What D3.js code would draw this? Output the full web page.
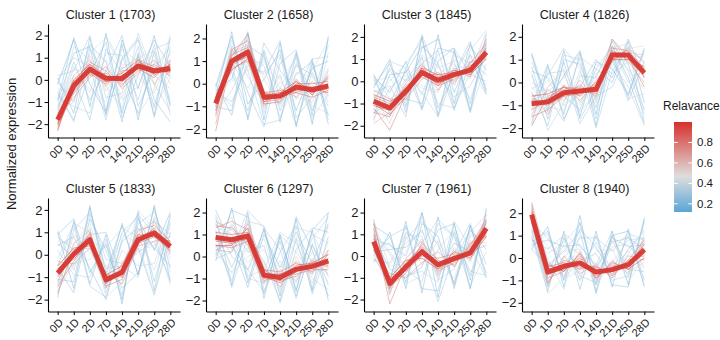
<!DOCTYPE html>
<html>
<head>
<meta charset="utf-8">
<script src="https://cdn.jsdelivr.net/npm/d3@7"></script>
<style>
  body { margin: 0; background: #fff; }
  svg { display: block; }
  text { font-family: "Liberation Sans", Arial, sans-serif; }
</style>
</head>
<body>
<svg id="chart" width="720" height="340"></svg>
<script>
// time points on the x axis
const timepoints = ["0D", "1D", "2D", "7D", "14D", "21D", "25D", "28D"];
const clusterSizes = [1703, 1658, 1845, 1826, 1833, 1297, 1961, 1940];

// thick red line: cluster centre profile
const centroids = [
  [-1.8, -0.27, 0.48, 0.07, 0.06, 0.63, 0.4, 0.5],
  [-0.87, 1.0, 1.4, -0.6, -0.55, -0.15, -0.27, -0.1],
  [-0.9, -1.2, -0.45, 0.4, 0.05, 0.3, 0.5, 1.3],
  [-0.93, -0.85, -0.45, -0.37, -0.3, 1.2, 1.2, 0.42],
  [-0.82, 0.03, 0.67, -1.12, -0.78, 0.67, 0.97, 0.37],
  [0.86, 0.76, 0.94, -0.85, -0.95, -0.58, -0.45, -0.2],
  [0.67, -1.26, -0.5, 0.2, -0.4, -0.12, 0.15, 1.27],
  [1.94, -0.63, -0.37, -0.22, -0.63, -0.52, -0.3, 0.37]
];

// per-panel y extent (free scales)
const yDomains = [
  [-2.6, 2.52], [-2.38, 2.64], [-2.53, 2.58], [-2.41, 2.56],
  [-2.53, 2.53], [-2.5, 2.66], [-2.55, 2.67], [-2.39, 2.68]
];
const yTicks = [-2, -1, 0, 1, 2];

// relevance of each member line (same order in every cluster)
const lineRelevance = [0.14, 0.17, 0.19, 0.21, 0.24, 0.27, 0.3, 0.33, 0.36, 0.4,
  0.45, 0.5, 0.6, 0.65, 0.7, 0.75, 0.8, 0.85, 0.9, 0.95,
  0.16, 0.2, 0.23, 0.28, 0.32, 0.38, 0.72, 0.88];

// member gene profiles, sampled by eye from each panel
const cluster1Lines = [
  [-0.2, 1.8, -1.2, 2.1, -1.5, 1.2, -1.6, 1.9],
  [0.1, -1.5, 1.9, -1.4, 1.6, -1.8, 1.3, -1.2],
  [-1.0, 1.2, 1.5, -1.6, 0.9, 1.8, -0.9, -1.9],
  [-0.6, -1.8, 0.3, 1.7, -1.7, 0.2, 1.8, 0.6],
  [-1.3, 0.8, -0.9, 0.4, 2.0, -1.2, 0.5, 1.5],
  [0.2, 0.4, 2.0, -0.8, -0.6, 1.5, -1.7, 0.9],
  [-0.8, -1.2, -1.5, 1.2, 1.1, -0.9, 1.6, -1.6],
  [-1.5, 1.5, 0.9, -0.3, -1.3, 2.1, 0.2, -0.4],
  [-0.4, -0.6, 1.2, 1.9, 0.5, -1.6, -0.4, 2.0],
  [-1.1, 0.2, -0.4, -1.0, 1.4, 0.8, 1.1, -0.9],
  [-1.6, 0.5, 0.2, 0.9, -0.8, 1.0, 1.3, -0.2],
  [-1.4, -1.0, 1.1, -0.5, 0.6, 0.1, -0.6, 1.2],
  [-2.0, 0.2, 0.9, -0.3, 0.5, 1.0, -0.2, 0.8],
  [-1.6, -0.8, 0.1, 0.6, -0.4, 0.3, 0.9, 0.1],
  [-2.2, -0.1, 0.8, 0.4, -0.3, 0.9, 0.6, 0.3],
  [-1.7, -0.5, 0.3, -0.2, 0.4, 0.5, 0.1, 0.9],
  [-1.9, -0.3, 0.7, 0.2, -0.1, 0.8, 0.5, 0.4],
  [-2.3, -0.1, 0.4, -0.1, 0.2, 0.6, 0.3, 0.7],
  [-1.8, -0.4, 0.6, 0.1, 0.0, 0.7, 0.4, 0.5],
  [-2.0, -0.2, 0.5, 0.0, 0.1, 0.5, 0.5, 0.6],
  [-0.9, 1.9, -0.2, -1.5, 1.8, -0.4, 2.0, -1.1],
  [-0.1, -1.0, 1.6, 0.8, -1.9, 1.1, -1.2, 1.4],
  [-1.2, 0.0, -1.8, 1.4, 0.3, -1.5, 0.8, 0.3],
  [0.0, 1.0, 0.6, -1.8, 1.0, 1.9, -0.2, -1.4],
  [-0.5, -1.9, 1.4, 0.2, -0.9, -0.3, 1.4, 1.7],
  [-1.4, 0.6, -0.6, 2.0, 0.7, 0.6, -1.3, 0.1],
  [-2.1, -0.6, 0.2, 0.3, -0.2, 0.4, 0.7, 0.2],
  [-1.7, 0.0, 0.7, -0.1, 0.3, 0.9, 0.2, 0.7]
];
const cluster2Lines = [
  [-0.3, 0.2, 2.3, -1.6, 1.8, -1.9, 0.9, -1.4],
  [-0.6, 2.3, -1.6, 1.4, -1.7, 1.3, -1.8, 2.1],
  [0.0, -1.4, 1.7, 1.2, -1.2, 0.4, 1.0, -1.8],
  [-1.1, 1.6, -0.4, -1.9, 0.9, 1.5, -1.2, 0.6],
  [-0.4, -0.8, 0.8, 0.5, 1.9, -1.5, -0.6, 1.7],
  [-0.9, 0.7, -1.2, 1.5, -0.6, 0.8, 0.4, -1.0],
  [-0.2, 1.9, 0.3, -0.9, 0.4, -1.9, 1.1, 1.2],
  [-1.3, -0.3, 1.2, 0.8, -1.5, 0.2, -1.5, -0.5],
  [-0.7, 1.2, 2.0, -1.3, 1.2, -0.7, 0.6, 1.9],
  [-0.5, 0.1, 0.6, 1.1, 0.2, 1.1, -1.0, -1.3],
  [-1.5, 0.6, 1.8, 0.2, -1.0, 0.5, 0.3, -0.6],
  [-0.8, 1.5, 0.9, -1.1, 0.1, -0.6, -0.8, 0.7],
  [-1.8, 1.4, 1.7, -0.3, -0.9, 0.2, -0.5, 0.4],
  [-0.5, 0.7, 1.0, -1.0, -0.2, -0.6, 0.1, -0.5],
  [-2.1, 1.2, 2.2, -0.8, -0.7, 0.1, -0.3, 0.2],
  [-1.0, 0.8, 1.3, -0.4, -0.3, -0.4, -0.6, -0.3],
  [-0.7, 1.3, 1.6, -0.9, -0.8, 0.0, 0.0, 0.1],
  [-1.2, 0.9, 1.2, -0.5, -0.4, -0.3, -0.2, -0.4],
  [-0.9, 1.1, 1.5, -0.7, -0.6, -0.1, -0.4, 0.0],
  [-0.8, 1.0, 1.4, -0.6, -0.5, -0.2, -0.3, -0.1],
  [-0.1, 2.1, -0.9, 0.2, 1.5, -1.2, 0.7, 1.0],
  [-1.0, -1.2, 2.2, -0.5, -0.8, 1.4, -1.4, 2.0],
  [-0.4, 0.5, -1.5, 1.8, 0.6, -0.4, 1.1, -1.6],
  [-0.8, 1.7, 0.6, -1.8, -1.6, 0.9, -0.3, 0.3],
  [-0.2, -1.0, 1.0, 0.4, 1.3, -1.8, 0.5, -0.8],
  [-1.2, 0.9, -0.2, 1.0, -0.2, 1.2, -1.7, 1.4],
  [-1.4, 1.5, 1.9, -0.4, -0.6, -0.4, -0.1, -0.3],
  [-0.6, 0.6, 1.1, -0.8, -0.4, 0.1, -0.5, 0.3]
];
const cluster3Lines = [
  [0.2, -0.5, 0.9, -1.2, 2.1, -1.0, 1.7, -0.4],
  [-0.3, 1.0, -1.4, 2.0, -1.5, 1.4, -1.3, 2.1],
  [-1.5, 0.3, 0.4, 1.6, 0.8, -1.3, 0.9, 0.3],
  [0.1, -1.3, -0.8, -1.0, 1.5, 1.3, -1.0, 1.6],
  [-1.1, 0.6, 0.0, 1.1, -1.6, 0.4, 1.8, -0.5],
  [-0.5, -0.2, -1.6, 2.1, 0.2, -0.7, -0.2, 1.2],
  [-1.8, 0.9, 0.6, -0.6, 1.2, 1.5, 0.3, 0.0],
  [0.3, -0.8, -0.3, 0.5, -1.0, -1.2, 1.4, 2.3],
  [-0.8, 0.0, 0.8, 1.8, 0.6, 0.9, -1.4, 0.8],
  [-1.3, -1.6, 0.2, -0.2, -0.4, 0.7, 0.6, -0.6],
  [-1.6, -1.0, -0.9, 1.0, 0.7, -0.2, 1.1, 1.0],
  [-0.6, -1.9, 0.1, -0.3, -0.5, 1.0, 0.1, 1.9],
  [-1.9, -1.4, -0.1, 0.8, -0.4, 0.6, 0.3, 1.6],
  [-0.4, -0.8, -0.8, 0.1, 0.4, -0.1, 0.9, 1.0],
  [-1.2, -2.2, -0.6, 0.7, 0.2, 0.5, 0.2, 1.9],
  [-0.7, -1.0, -0.3, 0.2, -0.2, 0.1, 0.7, 1.1],
  [-1.0, -1.5, -0.7, 0.6, 0.3, 0.4, 0.4, 1.5],
  [-0.8, -1.1, -0.4, 0.3, -0.1, 0.2, 0.6, 1.2],
  [-1.1, -1.3, -0.5, 0.5, 0.1, 0.3, 0.5, 1.4],
  [-0.9, -1.2, -0.45, 0.4, 0.05, 0.3, 0.5, 1.3],
  [-0.2, 0.8, -1.1, 1.5, 1.9, -0.5, 1.2, -0.6],
  [-1.4, -1.0, 0.5, -1.3, 0.9, 1.5, -1.4, 1.8],
  [0.3, -1.5, 0.6, 2.0, -1.2, 0.3, 1.6, 0.5],
  [-0.9, 0.5, -0.5, 0.8, 1.4, -1.2, 0.4, 2.2],
  [-1.7, -0.3, 0.3, -0.5, -1.6, 1.2, 0.8, -0.2],
  [0.0, 0.2, -1.2, 1.2, 0.3, 0.8, -0.8, 1.3],
  [-1.4, -1.6, -0.2, 0.3, 0.3, 0.0, 0.8, 1.7],
  [-0.6, -0.9, -0.6, 0.6, -0.2, 0.5, 0.3, 1.0]
];
const cluster4Lines = [
  [1.2, -1.2, 1.4, -1.5, 0.9, 0.6, -0.5, 1.5],
  [-1.8, 0.7, -1.4, 1.3, -1.9, 1.6, 0.2, -1.8],
  [0.5, 0.2, -0.6, -1.2, 0.6, 0.0, 1.8, -0.9],
  [-0.4, -1.9, 1.0, 0.8, -1.1, 1.1, -0.8, 0.9],
  [0.9, -0.6, -1.7, 0.3, 0.2, 1.8, 0.5, -1.4],
  [-1.2, 0.4, 0.5, -1.8, -0.6, -0.2, 1.3, 1.2],
  [0.3, -1.3, 1.2, 1.0, -1.6, 0.9, -0.2, -1.9],
  [-0.8, 0.1, -1.0, -0.5, 0.8, 0.4, 0.9, 0.4],
  [0.0, -0.4, 0.2, 1.3, -0.9, 1.4, -0.7, -0.5],
  [-1.5, 0.5, -0.2, -1.0, 0.4, 0.7, 1.5, 1.6],
  [-0.2, -1.1, -1.2, 0.5, -0.8, 1.0, 0.6, -0.3],
  [-1.6, -0.2, 0.6, -0.9, 0.3, 1.5, 1.7, 0.8],
  [-1.4, -0.3, -0.8, 0.1, -0.7, 1.6, 0.9, 0.0],
  [-0.5, -1.4, -0.1, -0.8, 0.1, 0.9, 1.5, 0.9],
  [-1.9, -0.6, -0.3, -0.2, -0.5, 1.9, 1.1, -0.2],
  [-0.7, -1.0, -0.6, -0.5, -0.1, 1.1, 1.4, 0.6],
  [-1.2, -0.7, -0.2, -0.3, -0.4, 1.4, 1.0, 0.3],
  [-0.8, -0.9, -0.5, -0.4, -0.2, 1.0, 1.3, 0.5],
  [-1.0, -0.8, -0.4, -0.4, -0.3, 1.3, 1.2, 0.4],
  [-0.9, -0.9, -0.5, -0.3, -0.3, 1.2, 1.2, 0.45],
  [1.3, -0.9, 0.3, 1.4, -1.4, 1.9, 0.8, -1.2],
  [-1.0, 0.8, -1.6, -0.2, 1.0, 0.2, 1.9, 0.2],
  [0.7, -1.6, 0.9, -1.6, -0.3, 1.2, -0.6, 1.4],
  [-0.3, 0.3, 1.5, 0.6, -2.0, 0.5, 1.6, -1.7],
  [0.4, -2.1, -0.9, 1.1, 0.6, 1.6, 0.0, 0.6],
  [-1.9, -0.2, 0.4, -1.3, -0.4, 0.9, 1.2, 1.1],
  [-1.5, -1.2, -0.6, -0.1, -0.6, 1.5, 1.4, 0.2],
  [-0.6, -0.5, -0.2, -0.6, 0.0, 1.0, 1.0, 0.7]
];
const cluster5Lines = [
  [1.0, -1.5, 2.1, -0.8, 1.3, -0.9, 2.2, -1.2],
  [-1.9, 1.5, -1.3, 0.9, -2.2, 1.9, -1.6, 1.8],
  [0.4, 0.8, -0.6, -2.0, 0.6, 1.2, 0.3, -0.5],
  [-0.6, -1.7, 1.6, 0.2, -1.5, -0.8, 1.5, 0.9],
  [0.8, 0.2, 0.3, -1.5, 1.0, 1.7, -1.2, 1.4],
  [-1.3, 1.1, 1.9, -0.2, -0.4, 0.1, 0.6, -1.1],
  [0.2, -0.9, -1.0, 0.7, -1.8, 1.4, 1.9, 0.2],
  [-0.2, 1.4, 1.0, -1.7, 0.2, -0.5, -0.4, 1.7],
  [-1.6, -0.4, -0.2, 0.4, -0.9, 2.0, 1.1, -0.8],
  [0.6, 0.5, 1.4, -0.9, 0.9, 0.5, -1.7, 0.6],
  [-0.4, -0.5, 1.2, -1.9, -1.2, 1.0, 1.6, -0.2],
  [-1.5, 0.9, 0.1, -0.5, -0.3, 0.2, 0.4, 1.2],
  [-1.2, 0.5, 1.1, -1.5, -0.4, 0.9, 1.5, 0.0],
  [-0.3, -0.4, 0.3, -0.8, -1.3, 0.4, 0.6, 0.8],
  [-1.7, 0.2, 0.9, -1.3, -0.6, 1.1, 1.3, 0.6],
  [-0.6, -0.2, 0.5, -0.9, -1.0, 0.5, 0.8, 0.2],
  [-1.0, 0.1, 0.8, -1.2, -0.7, 0.8, 1.1, 0.5],
  [-0.7, 0.0, 0.6, -1.0, -0.9, 0.6, 0.9, 0.3],
  [-0.9, 0.05, 0.7, -1.2, -0.8, 0.7, 1.0, 0.4],
  [-0.8, 0.0, 0.65, -1.1, -0.75, 0.65, 0.95, 0.35],
  [0.9, 1.6, -0.8, 0.5, -2.0, 1.6, 0.2, 1.9],
  [-1.1, -1.2, 2.2, -1.3, 1.4, -0.9, 2.1, -0.6],
  [0.5, -0.1, 0.9, 1.0, -1.0, 0.3, -1.8, 1.0],
  [-0.5, 1.3, -1.4, -1.9, 0.7, 1.8, 0.9, -1.3],
  [1.1, -0.7, 1.8, -0.6, -0.5, -1.0, 1.7, 0.5],
  [-1.8, 0.4, 0.6, 0.3, 1.2, 0.8, -0.7, 1.5],
  [-1.4, -0.3, 1.0, -1.4, -1.1, 0.5, 1.2, 0.1],
  [-0.5, 0.3, 0.4, -0.9, -0.5, 0.9, 0.8, 0.6]
];
const cluster6Lines = [
  [-0.2, 2.2, -1.2, 1.3, -1.8, 1.7, -1.5, 2.0],
  [1.8, -1.3, 2.0, -1.9, 1.0, -1.6, 1.2, -2.0],
  [0.3, 0.6, -1.4, 1.0, -0.5, 1.1, -0.3, 1.5],
  [1.2, -0.5, 1.1, -1.0, 0.7, -1.8, 0.5, -0.9],
  [0.0, 1.4, 0.2, 0.5, -2.1, 0.3, 1.3, 1.1],
  [1.5, 0.0, -0.6, -1.6, 0.2, 1.4, -1.7, 0.3],
  [0.6, -1.1, 1.6, 1.4, -1.2, -0.8, 0.8, 1.8],
  [1.0, 1.8, -0.9, -0.6, 1.1, 0.6, -1.0, -1.5],
  [0.2, -0.7, 0.4, -1.3, -0.2, -1.2, 1.0, 0.6],
  [1.4, 0.9, -0.3, 0.8, -1.5, 0.9, -0.6, -0.6],
  [1.9, 0.3, 1.7, -1.5, -0.4, -1.0, 0.2, -1.2],
  [0.4, 1.5, 0.5, -0.3, -1.6, 0.0, -1.2, 0.7],
  [1.6, 1.2, 0.5, -1.2, -0.6, -1.1, -0.1, -0.8],
  [0.3, 0.2, 1.5, -0.5, -1.4, -0.2, -0.8, 0.3],
  [1.3, 1.6, 1.2, -1.0, -1.1, -0.9, -0.2, -0.5],
  [0.5, 0.4, 0.7, -0.6, -0.7, -0.3, -0.7, 0.1],
  [1.1, 1.0, 1.1, -0.9, -1.2, -0.7, -0.3, -0.4],
  [0.7, 0.6, 0.8, -0.8, -0.8, -0.5, -0.5, -0.1],
  [0.9, 0.8, 1.0, -0.9, -1.0, -0.6, -0.4, -0.3],
  [0.85, 0.75, 0.9, -0.8, -0.9, -0.55, -0.45, -0.2],
  [2.1, 0.5, -0.6, 1.2, -1.1, 1.8, 0.3, -1.8],
  [0.1, 2.1, 1.8, -1.7, 0.9, -1.5, 1.2, 2.0],
  [1.1, -1.4, 0.9, -0.2, -2.0, 0.8, -1.6, 0.9],
  [-0.1, 0.2, 2.1, 1.3, 0.3, -1.9, 0.6, -1.3],
  [1.6, 1.0, -1.0, -1.2, 1.0, 0.2, -0.8, 1.4],
  [0.5, -0.8, 0.0, 0.3, -0.8, 1.3, 1.1, -0.5],
  [1.4, 1.3, 0.6, -1.1, -0.8, -0.8, -0.6, -0.6],
  [0.5, 0.5, 1.3, -0.6, -1.1, -0.4, -0.3, 0.1]
];
const cluster7Lines = [
  [-0.3, 1.1, -1.5, 2.0, -1.9, 1.5, -1.5, 2.1],
  [1.5, -1.2, 1.6, -1.7, 1.8, -1.5, 1.4, -1.0],
  [0.2, 0.3, 0.4, 1.2, -0.8, 0.6, 0.2, 0.5],
  [0.9, -0.6, -1.0, -0.5, 1.2, 1.5, -1.1, 1.6],
  [0.0, 0.9, 1.3, 0.3, -2.1, 0.1, 1.5, -0.4],
  [1.2, -1.8, 0.8, 1.6, 0.5, -1.2, 0.6, 1.0],
  [0.4, 0.6, -0.6, -1.2, 1.5, 0.9, -0.7, -0.9],
  [-0.2, -0.3, 1.0, 0.9, -1.1, -0.6, 1.1, 1.9],
  [1.0, 0.1, -1.3, -0.9, 0.3, 1.2, -1.4, 0.2],
  [0.5, -0.9, 0.2, 1.8, -0.3, -1.0, 0.9, 0.9],
  [1.6, -0.5, -0.2, 0.8, -1.0, 0.4, -0.3, 1.4],
  [0.1, -1.6, 0.9, -0.4, 0.7, -0.5, 0.7, 0.6],
  [1.7, -1.7, -0.1, 0.7, -0.9, 0.3, -0.2, 1.9],
  [0.2, -0.8, -1.0, -0.3, 0.2, -0.5, 0.6, 0.9],
  [1.3, -2.2, -0.4, 0.5, -0.7, -0.3, 0.4, 1.6],
  [0.4, -1.0, -0.7, 0.0, -0.1, 0.1, 0.0, 1.0],
  [1.0, -1.5, -0.3, 0.4, -0.6, -0.2, 0.3, 1.5],
  [0.5, -1.1, -0.6, 0.1, -0.3, 0.0, 0.1, 1.1],
  [0.8, -1.3, -0.5, 0.3, -0.5, -0.1, 0.2, 1.3],
  [0.65, -1.25, -0.5, 0.2, -0.4, -0.1, 0.15, 1.25],
  [1.4, 0.9, -1.2, 1.5, 0.9, -1.3, 1.4, -0.8],
  [-0.1, -1.1, 1.4, -1.5, -1.6, 1.1, -0.9, 1.7],
  [0.8, 0.5, 0.0, 2.0, -0.5, -0.2, 1.2, 0.3],
  [0.3, -1.5, 1.1, 0.6, 1.7, 0.9, -1.5, 2.2],
  [1.1, 0.2, -0.9, -0.7, -1.2, 1.6, 0.4, -1.0],
  [0.0, -0.4, 0.6, 1.1, 0.6, -1.4, 1.0, 0.8],
  [1.5, -1.4, -0.8, 0.6, -0.2, -0.4, 0.5, 1.7],
  [0.3, -1.0, -0.2, -0.1, -0.6, 0.2, -0.1, 0.9]
];
const cluster8Lines = [
  [0.4, 1.4, -1.3, 1.9, -1.5, 1.2, -1.2, 1.8],
  [1.0, -1.5, 1.2, -1.4, 1.2, -1.3, 1.3, -1.3],
  [0.6, 0.8, 0.5, 0.6, -0.4, 0.7, 0.9, 0.4],
  [1.3, -0.2, -0.6, 1.3, 0.5, -0.8, 0.4, 1.2],
  [0.8, 0.4, 1.0, -0.8, -1.1, 1.0, -0.5, -0.6],
  [1.5, -1.1, 0.0, 0.9, 0.9, 0.3, 1.1, 0.8],
  [0.5, 1.1, -0.9, -0.1, 0.2, -1.0, -0.8, 1.6],
  [1.1, 0.2, 0.7, 1.5, -0.7, 0.5, 0.6, -0.4],
  [2.1, -0.3, 0.3, 0.4, -1.2, -0.2, 0.8, 0.9],
  [1.7, -1.6, -0.9, -0.6, 0.3, 0.4, -1.1, 0.1],
  [1.4, 0.5, -0.1, -1.0, -0.2, -0.9, 0.2, 1.3],
  [2.3, -1.0, 0.6, 0.2, -0.5, 0.8, -0.6, -0.2],
  [2.5, -0.2, -0.8, 0.3, -1.0, -0.1, -0.7, 0.9],
  [1.6, -1.2, 0.1, -0.7, -0.3, -0.9, 0.1, -0.1],
  [2.2, -0.9, -0.6, 0.1, -0.9, -0.3, -0.5, 0.7],
  [1.7, -0.4, -0.2, -0.5, -0.4, -0.7, -0.1, 0.1],
  [2.1, -0.7, -0.5, 0.0, -0.8, -0.4, -0.4, 0.6],
  [1.8, -0.5, -0.3, -0.4, -0.5, -0.6, -0.2, 0.2],
  [2.0, -0.6, -0.4, -0.2, -0.7, -0.5, -0.3, 0.4],
  [1.9, -0.65, -0.35, -0.25, -0.6, -0.5, -0.3, 0.35],
  [0.7, 1.2, -1.0, 1.6, -1.2, 1.0, 1.2, -1.0],
  [1.2, -1.3, 0.9, -1.0, 1.0, -1.2, -1.3, 1.7],
  [0.4, -0.4, 0.3, 1.2, -1.6, 0.9, 0.5, 0.6],
  [1.6, 0.9, -0.3, -0.5, 0.7, -0.6, 1.0, -1.2],
  [0.9, -0.8, 1.1, 0.5, -0.3, 1.2, -0.9, 1.1],
  [1.3, 0.0, -1.4, 1.0, 0.4, -0.4, 0.3, -0.5],
  [2.4, -1.1, -0.1, -0.3, -0.4, -0.8, -0.1, 0.8],
  [1.6, -0.3, -0.6, 0.2, -0.9, -0.2, -0.5, 0.0]
];
const memberLines = [cluster1Lines, cluster2Lines, cluster3Lines, cluster4Lines,
  cluster5Lines, cluster6Lines, cluster7Lines, cluster8Lines];

const legendTicks = [0.2, 0.4, 0.6, 0.8];
const legendRange = [0.12, 1.0];

// layout
const PANEL = { left: 48, top: 24, w: 132, h: 113.5, dx: 158, dy: 174 };
const LINE_RED = "#d83832";

const svg = d3.select("#chart");

const color = d3.scaleLinear()
  .domain([0.12, 0.47, 1.0])
  .range(["#5ba5d6", "#dedede", "#d7302b"])
  .clamp(true);

const x = d3.scalePoint().domain(timepoints).range([0, PANEL.w]).padding(0.6);

clusterSizes.forEach((size, k) => {
  const col = k % 4, row = Math.floor(k / 4);
  const g = svg.append("g")
    .attr("transform", `translate(${PANEL.left + col * PANEL.dx},${PANEL.top + row * PANEL.dy})`);
  const y = d3.scaleLinear().domain(yDomains[k]).range([PANEL.h, 0]);
  const line = d3.line().x((d, i) => x(timepoints[i])).y(d => y(d));

  // low relevance first so red genes sit on top
  const genes = memberLines[k]
    .map((values, i) => ({ values, rel: lineRelevance[i] }))
    .sort((a, b) => a.rel - b.rel);

  g.append("g").selectAll("path")
    .data(genes)
    .join("path")
    .attr("d", d => line(d.values))
    .attr("fill", "none")
    .attr("stroke", d => color(d.rel))
    .attr("stroke-width", d => d.rel < 0.45 ? 0.7 : 0.9)
    .attr("stroke-opacity", d => d.rel < 0.45 ? 0.6 : 0.7);

  g.append("path").datum(centroids[k])
    .attr("d", line)
    .attr("fill", "none")
    .attr("stroke", LINE_RED)
    .attr("stroke-width", 5)
    .attr("stroke-linejoin", "round")
    .attr("stroke-opacity", 0.95);

  // axes
  g.append("g")
    .call(d3.axisLeft(y).tickValues(yTicks).tickFormat(d3.format("d"))
      .tickSize(3.5).tickSizeOuter(0).tickPadding(2))
    .call(ax => ax.select(".domain").attr("stroke", "#000").attr("stroke-width", 1.1))
    .call(ax => ax.selectAll(".tick line").attr("stroke", "#000"))
    .call(ax => ax.selectAll(".tick text")
      .attr("font-size", "13px").attr("fill", "#1a1a1a").attr("font-family", null));

  g.append("g").attr("transform", `translate(0,${PANEL.h})`)
    .call(d3.axisBottom(x).tickSize(3.5).tickSizeOuter(0))
    .call(ax => ax.select(".domain").attr("stroke", "#000").attr("stroke-width", 1.1))
    .call(ax => ax.selectAll(".tick line").attr("stroke", "#000"))
    .call(ax => ax.selectAll(".tick text")
      .attr("font-size", "11px").attr("fill", "#1a1a1a").attr("font-family", null)
      .attr("text-anchor", "end")
      .attr("x", 0).attr("y", 0).attr("dy", "0.35em")
      .attr("transform", "translate(3,9) rotate(-45)"));

  g.append("text")
    .attr("x", PANEL.w / 2 - 3.5).attr("y", -5)
    .attr("text-anchor", "middle")
    .attr("font-size", "12.5px").attr("fill", "#1a1a1a")
    .text(`Cluster ${k + 1} (${size})`);
});

// y axis title
svg.append("text")
  .attr("transform", "translate(16,144) rotate(-90)")
  .attr("text-anchor", "middle")
  .attr("font-size", "13px").attr("fill", "#1a1a1a")
  .text("Normalized expression");

// legend
const LEG = { x: 674, y: 122, w: 18, h: 90 };
const ly = d3.scaleLinear().domain(legendRange).range([LEG.y + LEG.h, LEG.y]);
const grad = svg.append("defs").append("linearGradient")
  .attr("id", "relGrad").attr("x1", 0).attr("y1", 1).attr("x2", 0).attr("y2", 0);
d3.range(0, 1.0001, 0.05).forEach(t => {
  const v = legendRange[0] + t * (legendRange[1] - legendRange[0]);
  grad.append("stop").attr("offset", t).attr("stop-color", color(v));
});
svg.append("text")
  .attr("x", 663).attr("y", 110)
  .attr("font-size", "12px").attr("fill", "#1a1a1a")
  .text("Relavance");
svg.append("rect")
  .attr("x", LEG.x).attr("y", LEG.y).attr("width", LEG.w).attr("height", LEG.h)
  .attr("fill", "url(#relGrad)");
const lt = svg.append("g").selectAll("g").data(legendTicks).join("g")
  .attr("transform", d => `translate(0,${ly(d)})`);
lt.append("line").attr("x1", LEG.x).attr("x2", LEG.x + 3.6)
  .attr("stroke", "#fff").attr("stroke-width", 1);
lt.append("line").attr("x1", LEG.x + LEG.w - 3.6).attr("x2", LEG.x + LEG.w)
  .attr("stroke", "#fff").attr("stroke-width", 1);
lt.append("text")
  .attr("x", LEG.x + LEG.w + 5).attr("dy", "0.35em")
  .attr("font-size", "11.5px").attr("fill", "#1a1a1a")
  .text(d => d.toFixed(1));
</script>
</body>
</html>
